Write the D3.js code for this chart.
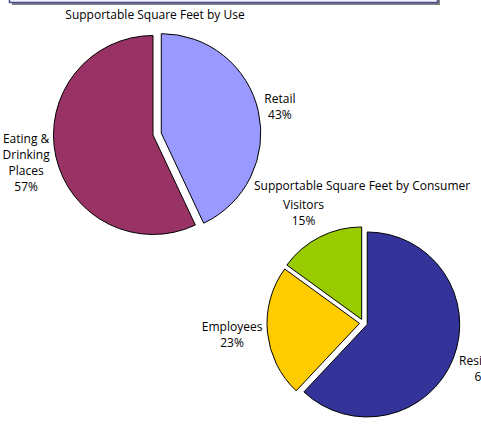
<!DOCTYPE html>
<html>
<head>
<meta charset="utf-8">
<script src="https://cdn.jsdelivr.net/npm/d3@7"></script>
<style>
  body { margin: 0; background: #fff; }
  svg { display: block; font-family: "Open Sans", "Noto Sans", sans-serif; }
</style>
</head>
<body>
<div id="chart"></div>
<script>
// Supportable Square Feet by Use
var useCategories = ["Retail", "Eating &\nDrinking\nPlaces"];
var useValues = [43, 57];
var useColors = ["#9999FF", "#993366"];

// Supportable Square Feet by Consumer
var consumerCategories = ["Residents", "Employees", "Visitors"];
var consumerValues = [62, 23, 15];
var consumerColors = ["#333399", "#FFCC00", "#99CC00"];

var width = 481;
var height = 424;

var svg = d3.select("#chart").append("svg")
    .attr("width", width)
    .attr("height", height);

// header box cut off at the top
svg.append("rect")
    .attr("x", 12).attr("y", -30)
    .attr("width", 428).attr("height", 35)
    .attr("fill", "#808080");
svg.append("rect")
    .attr("x", 9.5).attr("y", -30)
    .attr("width", 428).attr("height", 32.5)
    .attr("fill", "#f0f0f8")
    .attr("stroke", "#4a4a8c")
    .attr("stroke-width", 1.5);

function drawPie(cfg) {
    var g = svg.append("g")
        .attr("transform", "translate(" + cfg.cx + "," + cfg.cy + ")");

    var pie = d3.pie().sort(null).value(function (d) { return d.value; });
    var arcs = pie(cfg.data);
    var arc = d3.arc().innerRadius(0).outerRadius(cfg.r);

    g.selectAll("path")
        .data(arcs)
        .enter()
        .append("path")
        .attr("transform", function (d, i) {
            var a = (d.startAngle + d.endAngle) / 2;
            var e = cfg.explode[i];
            return "translate(" + (Math.sin(a) * e) + "," + (-Math.cos(a) * e) + ")";
        })
        .attr("d", arc)
        .attr("fill", function (d, i) { return cfg.colors[i]; })
        .attr("stroke", "#000")
        .attr("stroke-width", 1);

    // labels sit outside on a slightly flattened ring
    var labels = g.selectAll("text.lbl")
        .data(arcs)
        .enter()
        .append("text")
        .attr("class", "lbl")
        .attr("font-size", "12px")
        .attr("fill", "#000")
        .attr("text-anchor", "middle")
        .attr("transform", function (d) {
            var a = (d.startAngle + d.endAngle) / 2;
            return "translate(" + (Math.sin(a) * cfg.labelRx) + "," + (-Math.cos(a) * cfg.labelRy) + ")";
        });

    labels.each(function (d) {
        var lines = d.data.name.split("\n").concat([d.data.value + "%"]);
        var t = d3.select(this);
        lines.forEach(function (line, i) {
            t.append("tspan")
                .attr("x", 0)
                .attr("y", (i - (lines.length - 1) / 2) * 16 + 4)
                .text(line);
        });
    });
}

drawPie({
    cx: 153, cy: 135, r: 99.5, explode: [8.5, 0], labelRx: 130, labelRy: 130,
    colors: useColors,
    data: useCategories.map(function (c, i) { return { name: c, value: useValues[i] }; })
});

drawPie({
    cx: 363.5, cy: 323, r: 92.5, explode: [4, 4, 4], labelRx: 132, labelRy: 124,
    colors: consumerColors,
    data: consumerCategories.map(function (c, i) { return { name: c, value: consumerValues[i] }; })
});

// titles
svg.append("text")
    .attr("x", 155).attr("y", 19)
    .attr("text-anchor", "middle")
    .attr("font-size", "12px")
    .text("Supportable Square Feet by Use");

svg.append("text")
    .attr("x", 254).attr("y", 190)
    .attr("font-size", "12px")
    .text("Supportable Square Feet by Consumer");
</script>
</body>
</html>
